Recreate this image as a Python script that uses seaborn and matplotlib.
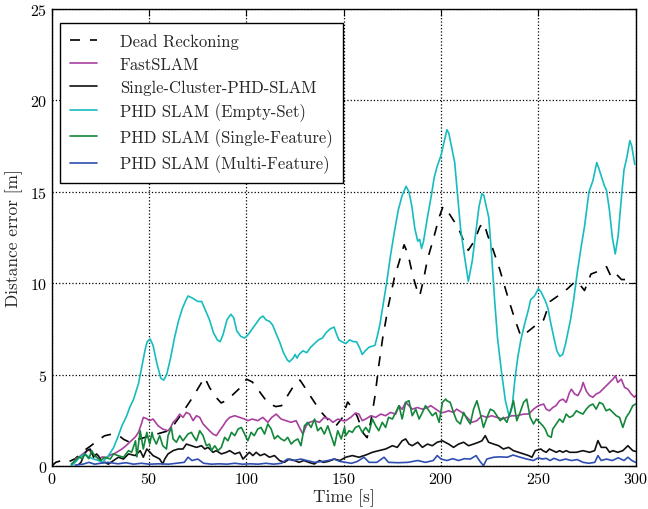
import matplotlib
matplotlib.use("Agg")
import matplotlib.pyplot as plt
import seaborn as sns

# ---- data: time [s] and distance error [m] for each estimator ----
dr_t = [0, 2, 5, 8, 12, 16, 20, 23, 27, 31, 34, 37, 40, 44, 49, 54, 59, 63, 67, 72, 76, 78.5,
        81, 84, 87, 90, 93, 97, 100, 103, 106.5, 111, 115, 118, 122, 125, 127.5, 130, 133, 138,
        143, 146, 149, 152, 155, 157, 160, 162, 164, 166, 168, 170, 173, 176, 178, 181, 183,
        185.5, 188, 189, 191, 193, 196, 199, 201, 203, 206, 209, 212, 214, 217, 220, 222, 224,
        226.5, 230, 233.6, 235, 238, 241, 244, 247.5, 250, 252.7, 256, 260, 265, 268, 270,
        273.7, 277, 282, 285, 287.6, 290, 292.7, 296, 299.4]
dr_e = [0.0, 0.2, 0.3, 0.2, 0.4, 0.8, 1.1, 1.35, 1.65, 1.75, 1.7, 1.45, 1.3, 1.45, 1.6, 1.75, 1.9,
        2.3, 2.9, 3.7, 4.4, 4.85, 4.3, 3.8, 3.45, 3.6, 3.9, 4.3, 4.75, 4.6, 4.1, 3.45, 3.25, 3.3,
        4.0, 4.5, 4.7, 4.3, 3.8, 3.0, 2.4, 2.2, 2.6, 3.5, 3.1, 2.7, 1.8, 1.55, 2.5, 3.8, 5.5, 7.0,
        8.8, 10.3, 11.0, 12.1, 11.6, 10.4, 9.5, 9.3, 10.2, 11.3, 12.4, 13.6, 14.2, 14.0, 13.5,
        13.0, 12.2, 11.8, 12.3, 13.1, 13.3, 12.6, 11.9, 10.8, 9.5, 9.0, 8.0, 7.1, 7.3, 7.6, 7.8,
        8.0, 9.0, 9.3, 9.7, 10.0, 10.1, 9.6, 10.5, 10.7, 10.9, 10.3, 10.5, 10.2, 10.2, 10.0]

fast_t = [12, 14, 17, 19, 20.5, 22, 24, 26, 28, 30, 32.5, 34, 36, 38, 41, 43, 44.5, 46, 47, 48.5,
          50.3, 52, 54.6, 57, 59.7, 61, 62.3, 64, 65.7, 67.4, 69.1, 70.8, 72.6, 74.3, 76, 77.7,
          79.4, 81, 82.8, 84.5, 86.2, 88, 89.7, 91.4, 94, 96.5, 99, 100.7, 103, 105.8, 108.4,
          111, 113, 115.3, 117.8, 120.4, 122.9, 125.5, 127.2, 129, 130.7, 132.4, 135, 137.5, 140,
          142.6, 144.4, 147, 149.5, 151, 153.6, 156, 157.8, 159.5, 161.3, 164, 166.4, 169, 171.5,
          174, 176.7, 178.4, 180, 181.8, 183.5, 185.2, 187.8, 190.4, 193, 194.7, 197.3, 199.8,
          201.3, 203.9, 206.4, 208, 210.7, 213.3, 215.9, 218.4, 221, 223.6, 226, 228.7, 231.3,
          233.8, 236.4, 239, 242.4, 245, 247.5, 250, 252.7, 254, 255.7, 257.4, 259, 260.9, 262.6,
          264.3, 266, 267, 268.6, 270.3, 272, 273, 274.6, 276.3, 278, 279.7, 281.4, 283.1, 284.8,
          286.6, 288.3, 289.6, 290.8, 292.6, 294.3, 296, 297.7, 299.4, 300]
fast_e = [0.38, 0.5, 0.75, 0.9, 0.7, 0.6, 0.38, 0.5, 0.45, 0.6, 0.7, 0.8, 0.93, 1.1, 1.4, 1.6, 1.84,
          2.3, 2.66, 2.6, 2.48, 2.57, 2.2, 2.02, 1.93, 2.1, 2.39, 2.57, 2.84, 2.66, 2.93, 2.84,
          2.48, 2.75, 2.66, 2.3, 2.11, 1.93, 1.75, 1.66, 1.93, 2.2, 2.48, 2.66, 2.75, 2.66, 2.57,
          2.48, 2.57, 2.48, 2.66, 2.39, 2.66, 2.84, 2.57, 2.48, 2.39, 2.48, 2.11, 1.75, 2.2, 2.39,
          2.48, 2.39, 2.66, 2.57, 2.39, 2.57, 2.48, 2.48, 2.66, 2.9, 2.84, 2.48, 2.57, 2.75, 2.66,
          2.84, 2.75, 2.93, 2.84, 3.3, 3.1, 3.48, 3.3, 3.11, 3.2, 3.11, 3.2, 3.3, 3.11, 2.93, 2.93,
          3.02, 2.93, 3.11, 2.93, 2.66, 2.39, 2.48, 2.75, 2.66, 2.75, 2.66, 2.57, 2.66, 2.75, 2.75,
          2.84, 2.84, 3.11, 3.3, 3.39, 3.11, 3.02, 3.2, 3.3, 3.57, 3.66, 3.48, 4.02, 4.2, 3.94,
          3.85, 4.2, 4.57, 4.1, 3.85, 3.76, 3.94, 4.02, 4.2, 4.38, 4.57, 4.75, 4.94, 4.57, 4.75,
          4.3, 4.2, 3.94, 3.76, 3.85]

sc_t = [14, 15, 16.5, 18, 19.7, 21.4, 23, 24, 25.7, 27.4, 29, 31.7, 34.2, 36.8, 39.4, 42.8, 45.4,
        47, 48.8, 50.5, 52, 53.7, 55.4, 57, 58, 59.7, 62.3, 64.9, 67.4, 69.1, 71.7, 74.3, 76.9,
        78.6, 80.3, 82.8, 84.5, 87.1, 89.7, 91.4, 94, 96.5, 98.2, 99.9, 101.5, 103.3, 105, 107,
        109.3, 111.8, 114.4, 117, 119.5, 122, 124.7, 127, 129.5, 132, 134.9, 137.5, 139.5, 142,
        145.2, 148, 151, 154.4, 157.8, 161.3, 164.7, 168, 171.5, 175, 177.5, 180, 181.8, 183.5,
        185.2, 188, 190.4, 193, 195.5, 198, 200.7, 203.9, 206.4, 209, 211.6, 214.1, 216.7, 219.3,
        221, 222.7, 224.4, 227, 229.6, 232, 234.7, 237.2, 239.8, 242.4, 245, 246.7, 248.4, 251.3,
        252.3, 254, 255.7, 257.4, 259.2, 260.9, 262.6, 264.3, 266, 269.5, 272.9, 276.3, 278.9,
        280.6, 282.3, 284.8, 286.6, 288.3, 290.8, 293.4, 296, 298.5, 300]
sc_e = [0.1, 0.2, 0.6, 0.84, 0.93, 0.48, 0.66, 0.55, 0.2, 0.2, 0.1, 0.3, 0.48, 0.38, 0.66, 0.57,
        0.84, 0.48, 0.93, 0.75, 0.57, 0.48, 0.38, 0.11, 0.38, 0.66, 0.84, 0.93, 0.93, 1.2, 1.11,
        1.02, 1.11, 0.93, 1.02, 0.75, 0.84, 0.66, 0.75, 0.84, 0.66, 0.75, 0.38, 0.57, 0.75, 0.57,
        0.75, 0.57, 0.66, 0.48, 0.57, 0.3, 0.2, 0.38, 0.3, 0.2, 0.3, 0.2, 0.11, 0.3, 0.2, 0.25,
        0.38, 0.3, 0.48, 0.57, 0.48, 0.6, 0.75, 0.84, 0.93, 1.11, 1.02, 1.38, 1.48, 1.2, 1.11,
        1.3, 1.02, 1.2, 1.11, 1.3, 1.38, 1.2, 1.02, 1.2, 1.3, 1.11, 1.2, 1.3, 1.38, 1.66, 1.3,
        1.2, 1.11, 0.93, 1.02, 0.84, 0.75, 0.66, 0.57, 0.48, 0.84, 0.93, 0.84, 0.75, 0.93, 0.84,
        0.75, 0.84, 0.75, 0.84, 0.75, 0.75, 0.84, 0.75, 0.84, 1.39, 1.02, 1.02, 0.75, 0.84, 0.75,
        0.84, 1.11, 0.84, 0.8]

empty_t = [10, 12, 14, 16, 17, 19, 21, 24, 26, 29, 31.7, 34, 36, 38.5, 40, 42, 44.5, 46, 48, 49,
           50.5, 52, 54, 56, 57.5, 59, 61, 63, 65, 67, 69, 70, 72, 75, 77, 79, 81, 83, 85, 86.5,
           88, 90, 92, 93.5, 95, 97, 99, 101, 103, 105, 107, 108.5, 110, 112, 113.5, 115, 117,
           119, 121, 122, 124, 125, 126, 127, 129, 131, 133, 135, 137, 139, 141, 143, 145, 146,
           147.5, 149, 151, 153, 155, 156.5, 158, 159.5, 161, 163, 166, 167, 168.5, 170, 172, 174,
           176, 178, 180, 182, 183.5, 185, 186.5, 188, 189, 190, 191, 193, 195, 196.5, 198, 200,
           201.5, 203, 204, 205.5, 207, 208.5, 210, 212, 214, 216, 218, 219.5, 221, 222, 223,
           224.5, 226, 227.5, 229, 231, 233, 235, 236.5, 238, 239.5, 241, 243, 245, 246, 248, 250,
           251.5, 253.7, 255, 256, 258, 259.5, 261, 262.5, 264, 266.5, 268, 270, 272, 273.7, 275,
           276, 278, 280, 281, 282.5, 284, 285, 286.5, 288, 289.5, 291, 292.5, 294, 295.5, 297,
           298, 299.5]
empty_e = [0.0, 0.2, 0.45, 0.6, 0.66, 0.5, 0.4, 0.3, 0.2, 0.55, 1.0, 1.6, 2.2, 2.75, 3.2, 3.65,
           4.5, 5.3, 6.4, 6.8, 6.95, 6.6, 5.6, 4.8, 4.7, 5.0, 5.9, 7.0, 7.9, 8.6, 9.1, 9.3, 9.2,
           9.0, 9.0, 8.5, 8.0, 7.3, 6.9, 6.8, 7.2, 8.0, 8.3, 8.1, 7.4, 7.1, 7.0, 7.2, 7.5, 7.8,
           8.1, 8.2, 8.0, 7.9, 7.7, 7.3, 6.8, 6.2, 5.8, 5.7, 5.9, 6.1, 5.9, 6.1, 6.3, 6.2, 6.5,
           6.7, 6.9, 7.0, 7.3, 7.5, 7.6, 7.3, 6.9, 6.8, 6.7, 6.9, 6.8, 6.8, 6.5, 6.1, 6.3, 6.5,
           6.6, 7.0, 7.7, 8.7, 10.0, 11.5, 12.8, 14.0, 14.8, 15.3, 15.0, 14.2, 13.0, 12.3, 12.4,
           11.9, 12.3, 13.6, 14.8, 15.8, 16.4, 17.0, 17.7, 18.4, 18.2, 17.4, 16.6, 14.8, 13.0,
           11.5, 10.1, 11.2, 12.9, 14.2, 14.9, 14.8, 14.3, 13.6, 11.5, 9.1, 7.0, 5.2, 3.6, 2.7,
           3.2, 4.8, 6.0, 6.9, 7.8, 8.6, 9.1, 9.3, 9.7, 9.5, 9.0, 8.6, 8.0, 7.0, 6.3, 6.0, 6.1,
           6.7, 8.0, 9.0, 10.6, 12.0, 13.1, 14.2, 15.0, 15.6, 16.6, 16.3, 15.8, 15.3, 15.1, 14.0,
           12.5, 11.6, 12.6, 14.5, 16.2, 16.9, 17.8, 17.5, 16.5]

single_t = [10, 12, 14, 15.5, 17, 19, 20.5, 22, 23.5, 25, 27.4, 30, 31.7, 34, 36.8, 39.4, 41, 43,
            43.7, 45.4, 47, 48.8, 50.3, 51.5, 52, 53.7, 55.4, 57, 58.9, 59.7, 61.4, 62.3, 64,
            65.7, 67.4, 70, 71.7, 72.6, 74.3, 76, 77.7, 79.4, 81, 82, 83.7, 85.4, 87.1, 88.8,
            90.5, 92.3, 94, 95.7, 97.4, 99, 100.7, 102.4, 104, 105.8, 107.5, 109.3, 111, 112.7,
            114.4, 116, 117.8, 119.5, 121.2, 123, 124.7, 126.4, 128, 129.8, 131.5, 133.2, 135,
            136.6, 138.3, 140, 141.8, 143.5, 145.2, 146.9, 148.7, 150.4, 151, 152.7, 154.4, 156,
            157.8, 159.5, 161.3, 163, 164.7, 166.4, 168, 169.8, 171.5, 173, 175, 176.7, 178.4,
            180, 181.8, 183.5, 185.2, 187, 188.7, 190.4, 192, 193.8, 195.5, 197.3, 199, 200.7,
            202.4, 203, 204.7, 206.4, 208, 209.9, 211.6, 213.3, 215, 216.7, 218.4, 220, 221.8,
            223.6, 225.3, 227, 228.7, 230.4, 232, 233.8, 235.5, 237.2, 238.9, 240.6, 242.4, 244,
            245.8, 247.5, 249, 250.6, 252.3, 253.5, 254.9, 256.6, 257.4, 259.2, 260.9, 262.6,
            264.3, 266, 267.7, 269.5, 271.1, 272.9, 274.6, 276.3, 278, 279.7, 281.4, 283.1, 284.8,
            286.6, 288.3, 290, 291.7, 293.4, 295.1, 296.8, 298.5, 300]
single_e = [0.1, 0.3, 0.5, 0.4, 0.66, 0.4, 0.84, 0.55, 0.45, 0.3, 0.48, 0.38, 0.66, 0.57, 0.48,
            0.84, 0.75, 1.38, 0.5, 1.93, 0.93, 1.84, 1.2, 1.84, 1.57, 1.2, 1.66, 1.11, 0.93, 1.66,
            2.11, 1.48, 1.3, 1.66, 1.38, 1.75, 1.84, 1.66, 1.38, 1.93, 1.66, 1.11, 1.2, 0.84, 1.11,
            0.84, 1.02, 1.57, 1.38, 1.84, 1.66, 2.02, 2.11, 1.75, 1.38, 1.84, 1.66, 2.02, 2.11,
            1.75, 2.3, 2.02, 1.48, 1.66, 1.48, 1.38, 1.57, 1.2, 1.38, 1.48, 1.11, 2.2, 2.39, 2.11,
            2.57, 1.93, 2.11, 1.75, 2.2, 1.66, 1.11, 1.93, 1.48, 2.11, 1.66, 1.93, 1.84, 2.11, 2.2,
            1.84, 2.11, 1.84, 2.57, 2.2, 1.93, 2.39, 2.11, 2.66, 2.57, 2.93, 3.3, 2.57, 3.48, 3.57,
            2.75, 3.11, 2.57, 2.93, 3.3, 3.02, 2.75, 2.93, 2.39, 3.48, 3.66, 3.57, 3.48, 2.93, 2.48,
            2.3, 2.93, 2.57, 2.3, 3.11, 3.57, 2.93, 2.11, 2.66, 3.11, 3.02, 2.75, 2.48, 2.66, 2.39,
            2.93, 3.57, 2.48, 2.93, 3.48, 3.66, 2.66, 2.3, 2.57, 2.39, 2.2, 2.02, 1.66, 1.57, 2.02,
            2.3, 2.57, 2.39, 2.84, 2.66, 2.75, 3.02, 2.93, 2.84, 3.11, 3.3, 3.39, 3.11, 3.48, 3.39,
            3.02, 3.11, 2.93, 2.75, 2.66, 2.11, 2.66, 2.93, 3.3, 3.39]

multi_t = [12, 16, 19, 22, 25, 29, 34, 38, 42, 46, 50, 55, 60, 64, 68, 70, 72, 75, 78, 82, 86,
           90, 94, 98, 102, 106, 110, 114, 118, 121, 124, 128, 131, 135, 139, 142, 145, 148, 151,
           154, 157, 160.4, 163, 167, 170.7, 173, 178, 183, 188, 192, 196, 198, 200, 203, 206,
           209, 212, 215, 218, 220, 221.8, 223.5, 227, 230.4, 234, 237, 240, 244, 247.5, 250,
           252, 254, 256, 258, 261, 264, 267, 270, 273, 276, 279, 280.6, 282.3, 285, 288, 291,
           294, 296, 298, 300]
multi_e = [0.05, 0.1, 0.2, 0.1, 0.15, 0.2, 0.12, 0.18, 0.1, 0.15, 0.1, 0.12, 0.1, 0.15, 0.2,
           0.48, 0.3, 0.38, 0.15, 0.1, 0.12, 0.1, 0.15, 0.1, 0.12, 0.1, 0.15, 0.1, 0.15, 0.38,
           0.3, 0.38, 0.3, 0.2, 0.25, 0.3, 0.38, 0.25, 0.2, 0.15, 0.25, 0.48, 0.2, 0.2, 0.48,
           0.2, 0.18, 0.2, 0.3, 0.2, 0.3, 0.57, 0.38, 0.3, 0.4, 0.3, 0.4, 0.38, 0.57, 0.25, 0.02,
           0.38, 0.48, 0.5, 0.48, 0.6, 0.5, 0.38, 0.3, 0.45, 0.38, 0.42, 0.3, 0.42, 0.3, 0.38,
           0.3, 0.35, 0.2, 0.15, 0.2, 0.57, 0.3, 0.38, 0.3, 0.45, 0.3, 0.48, 0.3, 0.2]

labels = ["Dead Reckoning", "FastSLAM", "Single-Cluster-PHD-SLAM",
          "PHD SLAM (Empty-Set)", "PHD SLAM (Single-Feature)", "PHD SLAM (Multi-Feature)"]
x_ticks = [0, 50, 100, 150, 200, 250, 300]
y_ticks = [0, 5, 10, 15, 20, 25]

# ---- style ----
sns.set_style("white")
plt.rcParams["font.family"] = ["cmr10", "DejaVu Serif"]
plt.rcParams["mathtext.fontset"] = "cm"
plt.rcParams["axes.formatter.use_mathtext"] = True
plt.rcParams["axes.unicode_minus"] = False

fig = plt.figure(figsize=(6.48, 5.10), dpi=100)
ax = fig.add_axes([0.080, 0.0843, 0.901, 0.8961])

lw = 1.2
series = [
    (dr_t, dr_e, "black", (0, (6, 6))),
    (fast_t, fast_e, "#a8409f", "-"),
    (sc_t, sc_e, "#111111", "-"),
    (empty_t, empty_e, "#17bcc0", "-"),
    (single_t, single_e, "#12873a", "-"),
    (multi_t, multi_e, "#2e4fb0", "-"),
]
for (t, e, c, ls), lab in zip(series, labels):
    sns.lineplot(x=t, y=e, ax=ax, color=c, linewidth=lw, linestyle=ls,
                 estimator=None, sort=False, label=lab)

ax.set_xlim(0, 300)
ax.set_ylim(0, 25)
ax.set_xticks(x_ticks)
ax.set_yticks(y_ticks)
ax.grid(True, color="black", linestyle=":", linewidth=0.9)
ax.tick_params(direction="in", top=True, right=True, length=5, width=0.8,
               labelsize=11.5, pad=3.5, colors="black")
for s in ax.spines.values():
    s.set_color("black")
    s.set_linewidth(1.0)

ax.set_xlabel("Time [s]", fontsize=12.5, labelpad=2)
ax.set_ylabel("Distance error [m]", fontsize=12.5, labelpad=5)

leg = ax.legend(loc="upper left", bbox_to_anchor=(0.0137, 0.969), borderaxespad=0,
                fontsize=12, handlelength=1.65, handletextpad=1.35, labelspacing=0.45,
                borderpad=0.6, fancybox=False, framealpha=1.0, edgecolor="black")
leg.get_frame().set_linewidth(1.0)

fig.savefig("out.png", dpi=100)
